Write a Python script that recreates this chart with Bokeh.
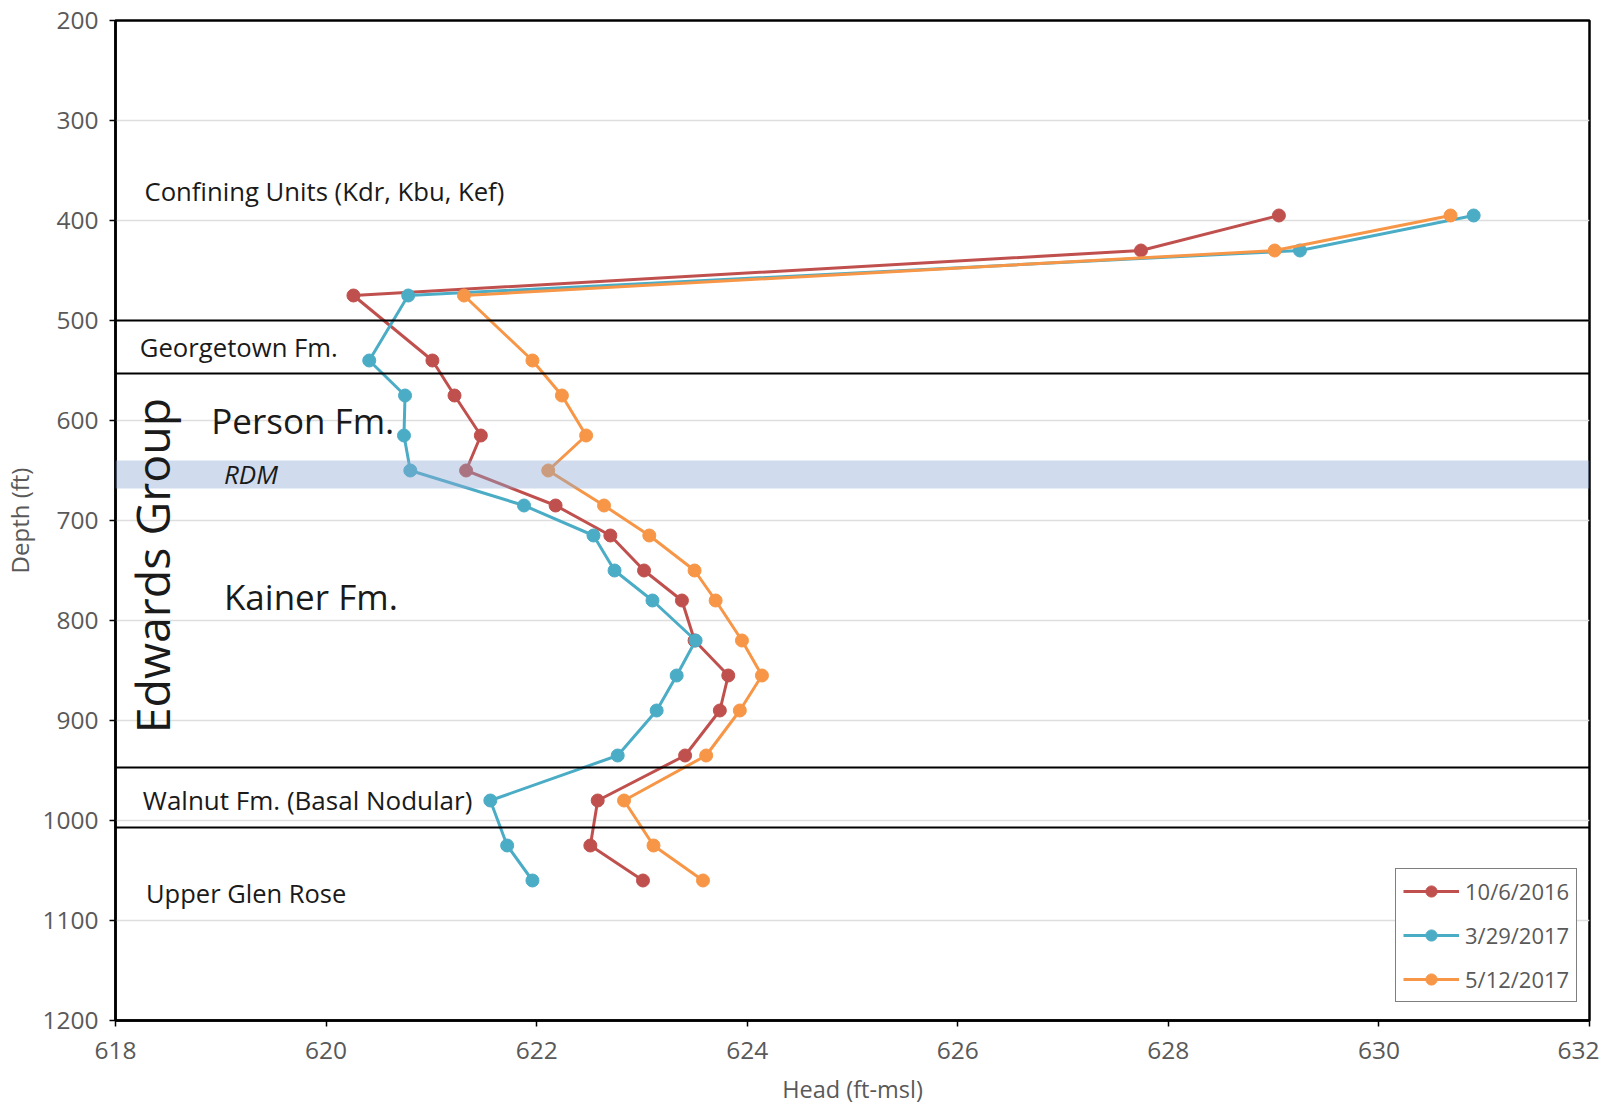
from bokeh.plotting import figure
from bokeh.models import Range1d, FixedTicker, Span, BoxAnnotation, Label, Legend, LegendItem
from bokeh.embed import file_html
from bokeh.resources import INLINE
import math

depth = [395, 430, 475, 540, 575, 615, 650, 685, 715, 750, 780, 820, 855, 890, 935, 980, 1025, 1060]
head_2016_10_06 = [629.05, 627.74, 620.26, 621.01, 621.22, 621.47, 621.33, 622.18, 622.70, 623.02, 623.38, 623.50, 623.82, 623.74, 623.41, 622.58, 622.51, 623.01]
head_2017_03_29 = [630.90, 629.25, 620.78, 620.41, 620.75, 620.74, 620.80, 621.88, 622.54, 622.74, 623.10, 623.51, 623.33, 623.14, 622.77, 621.56, 621.72, 621.96]
head_2017_05_12 = [630.68, 629.01, 621.31, 621.96, 622.24, 622.47, 622.11, 622.64, 623.07, 623.50, 623.70, 623.95, 624.14, 623.93, 623.61, 622.83, 623.11, 623.58]
series_names = ["10/6/2016", "3/29/2017", "5/12/2017"]
series_colors = ["#c0504d", "#4bacc6", "#f79646"]

x_ticks = [618, 620, 622, 624, 626, 628, 630, 632]
y_ticks = [200, 300, 400, 500, 600, 700, 800, 900, 1000, 1100, 1200]

boundaries = [500, 553, 947, 1007]
rdm_top, rdm_bottom = 640, 668

FONT = "Open Sans"
GREY = "#595959"

p = figure(frame_width=1474, frame_height=1000, min_border_left=115, min_border_top=20,
           min_border_right=10, min_border_bottom=80,
           x_range=Range1d(618, 632), y_range=Range1d(1200, 200),
           output_backend="svg", toolbar_location=None)

p.xaxis.ticker = FixedTicker(ticks=x_ticks)
p.yaxis.ticker = FixedTicker(ticks=y_ticks)
p.xgrid.grid_line_color = None
p.ygrid.grid_line_color = "#dedede"
p.ygrid.grid_line_width = 1.5
p.outline_line_color = "black"
p.outline_line_width = 2.5
p.outline_line_alpha = 1

for ax in (p.xaxis[0], p.yaxis[0]):
    ax.axis_line_color = "black"
    ax.axis_line_width = 2.5
    ax.major_tick_line_color = "black"
    ax.major_tick_line_width = 1.5
    ax.major_tick_out = 6
    ax.major_tick_in = 0
    ax.minor_tick_line_color = None
    ax.major_label_text_font = FONT
    ax.major_label_text_font_size = "24.5px"
    ax.major_label_text_color = GREY
    ax.axis_label_text_font = FONT
    ax.axis_label_text_font_style = "normal"
    ax.axis_label_text_color = GREY

p.xaxis.axis_label = "Head (ft-msl)"
p.yaxis.axis_label = "Depth (ft)"
p.yaxis.axis_label_text_font_size = "24px"
p.xaxis.axis_label_text_font_size = "23.5px"
p.yaxis.major_label_standoff = 11
p.xaxis.major_label_standoff = 15
p.yaxis.axis_label_standoff = 3
p.xaxis.axis_label_standoff = 11

for b in boundaries:
    p.add_layout(Span(location=b, dimension="width", line_color="black", line_width=2))

items = []
for name, col, xs in zip(series_names, series_colors, [head_2016_10_06, head_2017_03_29, head_2017_05_12]):
    r1 = p.line(xs, depth, line_color=col, line_width=3)
    r2 = p.scatter(xs, depth, size=13, fill_color=col, line_color=col)
    items.append(LegendItem(label=name, renderers=[r1, r2]))

p.add_layout(BoxAnnotation(top=rdm_top, bottom=rdm_bottom, fill_color="#8aa8d2", fill_alpha=0.4, line_color=None))

def lab(x, y, t, size, **kw):
    p.add_layout(Label(x=x, y=y, text=t, text_font=FONT, text_font_size=size,
                       text_color="#1a1a1a", text_baseline="middle", **kw))

lab(618.275, 371, "Confining Units (Kdr, Kbu, Kef)", "25.7px")
lab(618.23, 527, "Georgetown Fm.", "25.7px")
lab(618.91, 600, "Person Fm.", "35px")
lab(619.03, 653, "RDM", "26px", text_font_style="italic")
lab(619.03, 776, "Kainer Fm.", "35px")
lab(618.35, 745, "Edwards Group", "46.5px", angle=math.pi / 2, text_align="center")
lab(618.26, 979, "Walnut Fm. (Basal Nodular)", "26px")
lab(618.29, 1072, "Upper Glen Rose", "25.5px")

legend = Legend(items=items, location=(1280, 18), border_line_color="black", border_line_width=1.5,
                label_text_font=FONT, label_text_font_size="22px", label_text_color=GREY,
                glyph_width=56, glyph_height=28, label_standoff=6,
                spacing=14, padding=7, background_fill_alpha=1)
p.add_layout(legend)

open("out.html", "w").write(file_html(p, INLINE))
